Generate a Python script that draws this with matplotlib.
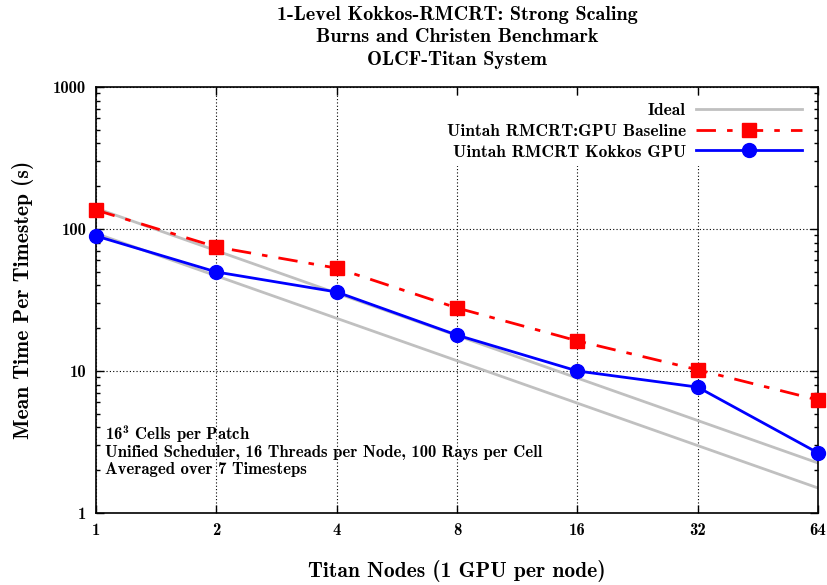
import numpy as np
import matplotlib
matplotlib.use("Agg")
import matplotlib.pyplot as plt
from matplotlib.ticker import FixedLocator, NullFormatter, LogLocator, NullLocator

plt.rcParams['mathtext.fontset'] = 'custom'
plt.rcParams['mathtext.rm'] = 'cmb10'
plt.rcParams['mathtext.bf'] = 'cmb10'
plt.rcParams['mathtext.it'] = 'cmb10'
plt.rcParams['axes.unicode_minus'] = False

# data
nodes = [1, 2, 4, 8, 16, 32, 64]
baseline = [136, 74.7, 53, 27.8, 16.3, 10.2, 6.25]
kokkos = [89.3, 49.8, 36, 17.9, 10.0, 7.7, 2.65]
ideal_nodes = [1, 64]
ideal_hi = [140, 2.25]
ideal_lo = [93, 1.5]

x_ticks = [1, 2, 4, 8, 16, 32, 64]
y_ticks = [1, 10, 100, 1000]

title = "1-Level Kokkos-RMCRT: Strong Scaling\nBurns and Christen Benchmark\nOLCF-Titan System"
note = ["16$^{\\mathbf{3}}$ Cells per Patch",
        "Unified Scheduler, 16 Threads per Node, 100 Rays per Cell",
        "Averaged over 7 Timesteps"]

fig = plt.figure(figsize=(8.27, 5.85), dpi=100)
ax = fig.add_axes([0.1161, 0.1231, 0.9891 - 0.1161, 0.8513 - 0.1231])

ax.plot(ideal_nodes, ideal_hi, color='#c0c0c0', lw=2, label='Ideal', zorder=2)
ax.plot(ideal_nodes, ideal_lo, color='#c0c0c0', lw=2, zorder=2)
ax.plot(nodes, baseline, color='red', lw=2, dashes=(7, 4, 2, 4),
        marker='s', markersize=10, label='Uintah RMCRT:GPU Baseline', zorder=3,
        clip_on=False)
ax.plot(nodes, kokkos, color='blue', lw=2, marker='o', markersize=10,
        label='Uintah RMCRT Kokkos GPU', zorder=4, clip_on=False)

ax.set_xscale('log', base=2)
ax.set_yscale('log')
ax.set_xlim(1, 64)
ax.set_ylim(1, 1000)

bold = dict(family='cmb10', size=12)
ax.xaxis.set_major_locator(FixedLocator(x_ticks))
ax.xaxis.set_minor_locator(NullLocator())
ax.set_xticks(x_ticks)
ax.set_xticklabels([str(v) for v in x_ticks], fontdict=bold)
ax.set_yticks(y_ticks)
ax.set_yticklabels([str(v) for v in y_ticks], fontdict=bold)
ax.yaxis.set_minor_locator(LogLocator(base=10, subs=np.arange(2, 10)))
ax.yaxis.set_minor_formatter(NullFormatter())
ax.tick_params(which='both', direction='in', top=True, right=True, width=1)
ax.tick_params(which='major', length=6, pad=7)
ax.tick_params(which='minor', length=3)
for s in ax.spines.values():
    s.set_linewidth(1.2)

ax.grid(True, which='major', color='black', linestyle=(0, (1, 2)), linewidth=0.8)

ax.set_xlabel("Titan Nodes (1 GPU per node)", family='cmb10', size=15.5, labelpad=16)
ax.set_ylabel("Mean Time Per Timestep (s)", family='cmb10', size=15.5, labelpad=14)
fig.text(457 / 827, 1 - 6 / 585, title, family='cmb10', size=14.5, ha='center', va='top',
         linespacing=1.32)

leg = ax.legend(loc='upper right', markerfirst=False, prop=dict(family='cmb10', size=12.5),
                handlelength=6.1, numpoints=1, frameon=True, fancybox=False,
                borderaxespad=0.5, labelspacing=0.33, handletextpad=0.6)
leg.get_frame().set_facecolor('white')
leg.get_frame().set_edgecolor('none')
leg.get_frame().set_alpha(1)
leg.set_zorder(5)

# three note lines, placed one under the other in axes-fraction steps
for i, line in enumerate(note):
    ax.text(0.013, 0.172 - i * 0.04, line, transform=ax.transAxes, family='cmb10',
            size=12, va='baseline', ha='left')

fig.savefig("out.png", dpi=100)
